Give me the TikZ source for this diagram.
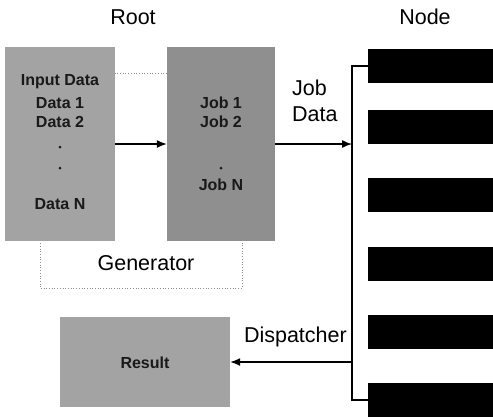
\documentclass[tikz,border=0pt]{standalone}
\usepackage{fontspec}
\setmainfont{Liberation Sans}
\usetikzlibrary{arrows.meta}
\begin{document}
\begin{tikzpicture}[x=1pt,y=-1pt,
  caption/.style={font=\fontsize{21.5}{26}\selectfont, inner sep=0pt},
  entry/.style={font=\bfseries\fontsize{16}{19}\selectfont, text=black!90, inner sep=0pt},
  greybox/.style={draw=none, fill=black!36, inner sep=0pt},
  nodebar/.style={draw=none, fill=black, inner sep=0pt, minimum width=128pt, minimum height=34pt},
  flow/.style={-{Latex[length=10pt,width=8pt]}, line width=1.4pt},
  bus/.style={line width=1.1pt},
  genframe/.style={draw=black!45, dotted, line width=0.7pt},
  dot/.style={circle, fill=black!90, inner sep=0pt, minimum size=3pt}
]
\useasboundingbox (0,0) rectangle (493,416);

% generator frame, behind the two data boxes
\draw[genframe] (40,73) rectangle (242,288);

% data and job boxes
\node[greybox, minimum width=110pt, minimum height=194pt] (data) at (60,144) {};
\node[greybox, fill=black!44, minimum width=108pt, minimum height=194pt] (job) at (221,144) {};
\node[greybox, minimum width=170pt, minimum height=90pt] (result) at (145,362) {};

% headings
\node[caption] (root) at (133,17) {Root};
\node[caption] (nodehead) at (425,17) {Node};
\node[caption] (gen) at (146,263) {Generator};
\node[caption, anchor=west, align=left] (jobdata) at (292,101) {Job\\Data};
\node[caption, anchor=east] (disp) at (347,337) {Dispatcher};

% entries of the data box
\node[entry] (in) at (60,82) {Input Data};
\node[entry] (d1) at (60,103) {Data 1};
\node[entry] (d2) at (60,122) {Data 2};
\node[dot] (dd1) at (60,147) {};
\node[dot] (dd2) at (60,168) {};
\node[entry] (dn) at (60,204) {Data N};

% entries of the job box
\node[entry] (j1) at (221,103) {Job 1};
\node[entry] (j2) at (221,122) {Job 2};
\node[dot] (jd) at (221,168) {};
\node[entry] (jn) at (221,185) {Job N};

\node[entry] (res) at (145,363) {Result};

% worker nodes
\node[nodebar] (n1) at (432,66) {};
\node[nodebar] (n2) at (432,126.5) {};
\node[nodebar] (n3) at (432,194.5) {};
\node[nodebar] (n4) at (432,263.5) {};
\node[nodebar] (n5) at (432,331.5) {};
\node[nodebar] (n6) at (432,400) {};

% bus linking the nodes
\coordinate (busx) at (352,0);
\draw[bus] (n1.west) -- (n1.west -| busx) |- (n6.west);

% connectors
\draw[flow] (data) -- (job);
\draw[flow] (job.east) -- (job.east -| busx);
\draw[flow] (result.east -| busx) -- (result.east);
\end{tikzpicture}
\end{document}
